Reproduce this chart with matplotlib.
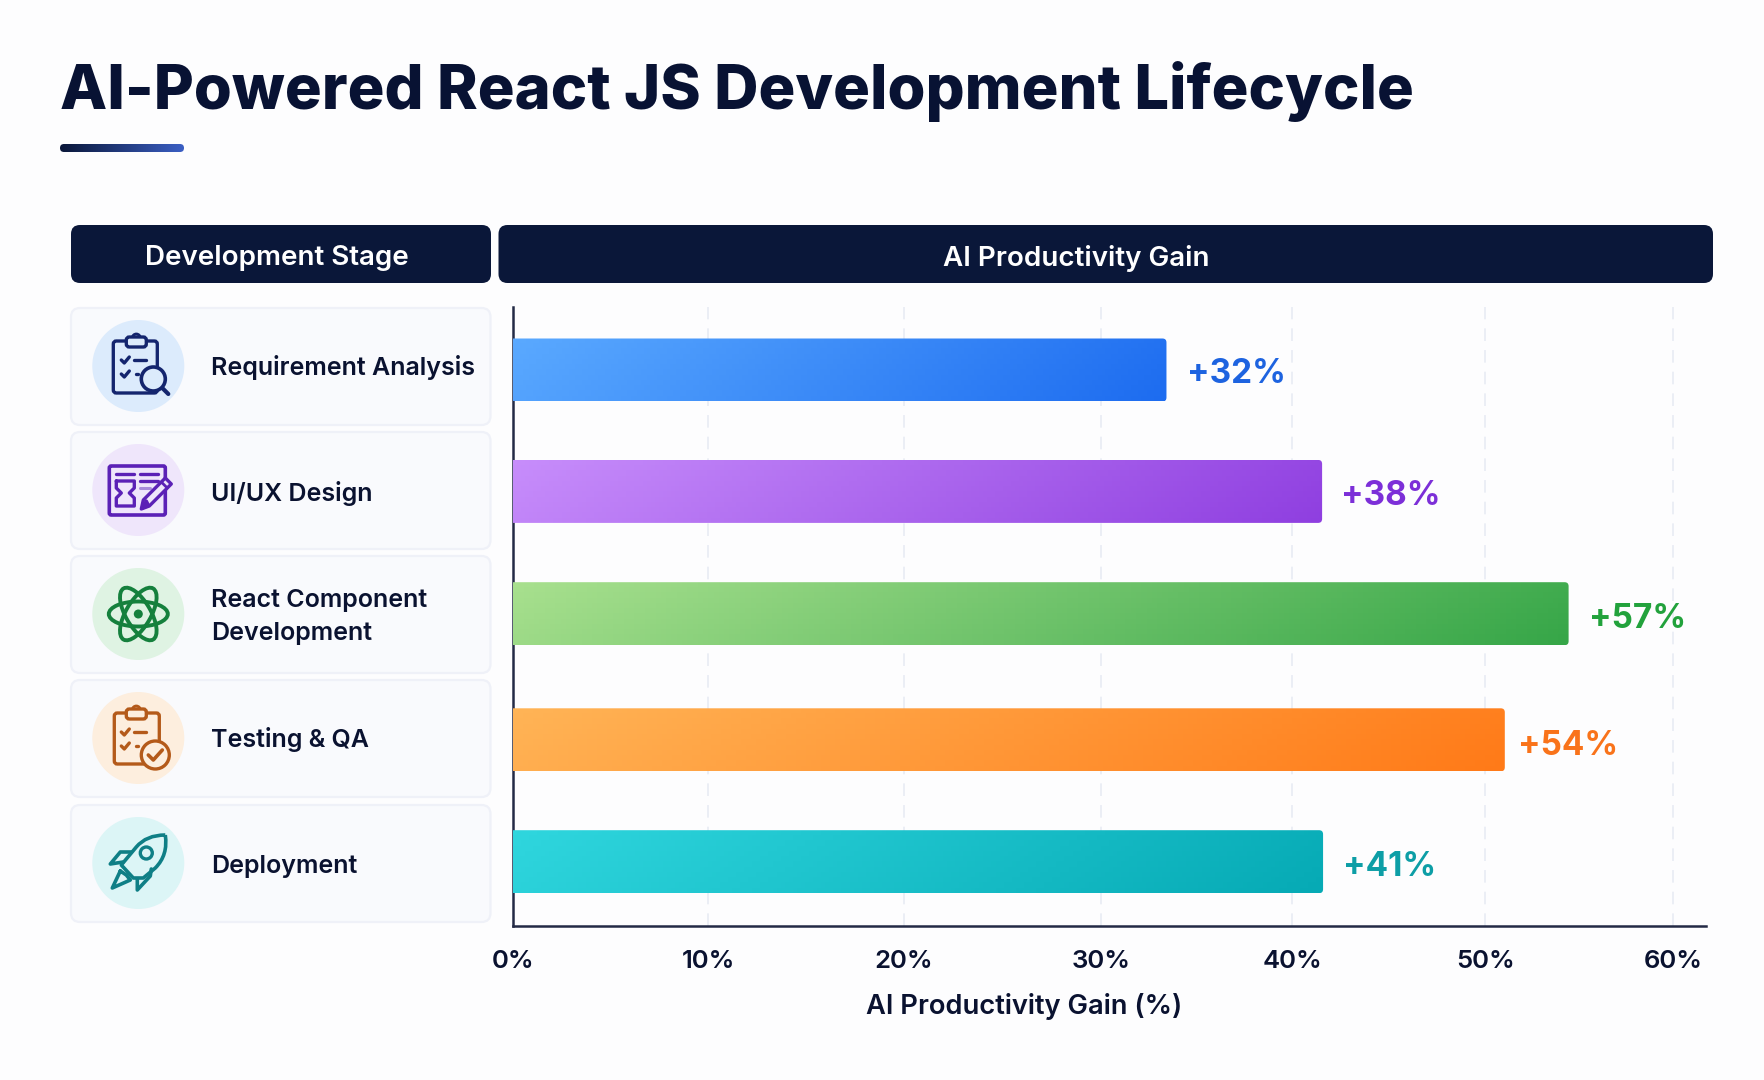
import numpy as np
import matplotlib
matplotlib.use("Agg")
import matplotlib.pyplot as plt
from matplotlib.colors import to_rgb
from matplotlib.patches import Circle, Ellipse, FancyBboxPatch, PathPatch, Polygon
from matplotlib.path import Path
from matplotlib.transforms import Affine2D

plt.rcParams['font.family'] = ['Inter', 'DejaVu Sans']

# -----------------------------
# Data
# -----------------------------
stages = ["Requirement Analysis", "UI/UX Design", "React Component\nDevelopment",
          "Testing & QA", "Deployment"]
bar_ends = [33.8, 41.85, 54.6, 51.3, 41.9]   # where the bars stop on the axis
gain_labels = ["+32%", "+38%", "+57%", "+54%", "+41%"]
tick_values = [0, 10.1, 20.2, 30.4, 40.3, 50.3, 60]
tick_labels = ["0%", "10%", "20%", "30%", "40%", "50%", "60%"]

# -----------------------------
# Colours
# -----------------------------
NAVY = "#0a1739"
INK = "#0a1230"
bar_left = ["#5aa9ff", "#c78dfb", "#a8e08e", "#ffb456", "#2fd6de"]
bar_right = ["#1d6cf0", "#8f3fe0", "#36a648", "#ff7a18", "#06aab5"]
label_cols = ["#1d63e0", "#7c2fd8", "#22a23c", "#f9731a", "#0d9ea6"]
disc_cols = ["#dcebfc", "#efe6fb", "#dff3e3", "#fdeede", "#dcf5f6"]
icon_cols = ["#14256e", "#5b21b6", "#15803d", "#b45a1a", "#0f7f86"]

# -----------------------------
# Layout (pixels)
# -----------------------------
W, H = 1764, 1080
card_tops = [308, 432, 556, 680, 805]
card_bots = [425, 549, 673, 797, 922]
disc_y = [366, 490, 614, 738, 863]
disc_x = 138.3
text_y = [367.5, 494, 617, 739.5, 866]
bar_y = [370, 491.4, 613.7, 739.8, 861.7]
bar_h = 63
label_gap = [21, 19, 20, 13.5, 20]
label_drop = [1.5, 2, 3, 3.5, 2.5]
AX_L, AX_R, AX_T, AX_B = 513, 1705.5, 307, 926
PX_PER_UNIT = (1673 - 513) / 60

fig = plt.figure(figsize=(W/100, H/100), dpi=100, facecolor="#fdfdfe")

bg = fig.add_axes([0, 0, 1, 1])
bg.set_xlim(0, W)
bg.set_ylim(H, 0)
bg.axis("off")


def gradient(c0, c1, tilt=0.1, n=200):
    # left to right blend, leaning a little so it reads diagonal
    xx, yy = np.meshgrid(np.linspace(0, 1, n), np.linspace(0, 1, 12))
    t = np.clip(xx*(1 - tilt) + yy*tilt, 0, 1)[..., None]
    return np.array(to_rgb(c0))*(1 - t) + np.array(to_rgb(c1))*t


def round_box(x0, y0, x1, y1, r, **kw):
    return FancyBboxPatch((x0, y0), x1 - x0, y1 - y0,
                          boxstyle="round,pad=0,rounding_size=%g" % r, **kw)


# -----------------------------
# Title + underline
# -----------------------------
bg.text(60, 91, "AI-Powered React JS Development Lifecycle", fontsize=44.2,
        fontweight=800, color="#081233", ha="left", va="center")
clip = round_box(60, 144, 184, 152, 4, fc="none", ec="none")
bg.add_patch(clip)
im = bg.imshow(gradient(NAVY, "#3b5fc4", 0), extent=[60, 184, 152, 144], aspect="auto")
im.set_clip_path(clip)
bg.set_xlim(0, W)
bg.set_ylim(H, 0)

# -----------------------------
# Header pills
# -----------------------------
bg.add_patch(round_box(71, 225, 491, 283, 9, fc=NAVY, ec="none"))
bg.add_patch(round_box(498.5, 225, 1713, 283, 9, fc=NAVY, ec="none"))
bg.text(277, 258, "Development Stage", color="white", fontsize=20, fontweight="semibold",
        ha="center", va="center")
bg.text(1076, 258, "AI Productivity Gain", color="white", fontsize=20, fontweight="semibold",
        ha="center", va="center")


# -----------------------------
# Icons, drawn around the disc centre
# -----------------------------
def stroke(pts, col, lw=2.4, cx=0, cy=0, z=5):
    pts = np.array(pts, float)
    bg.plot(pts[:, 0] + cx, pts[:, 1] + cy, color=col, lw=lw, solid_capstyle="round",
            solid_joinstyle="round", zorder=z)


def clipboard(cx, cy, col, x0, y0, x1, y1):
    bg.add_patch(round_box(cx + x0, cy + y0, cx + x1, cy + y1, 3, fc="none", ec=col,
                           lw=2.4, zorder=5))
    bg.add_patch(Circle((cx - 2, cy - 28), 4, fc=disc_col, ec=col, lw=2, zorder=5))
    bg.add_patch(round_box(cx - 12, cy - 29, cx + 8, cy - 19, 3, fc=disc_col, ec=col,
                           lw=2.4, zorder=5))
    stroke([(-17, -6), (-14, -3), (-9, -9)], col, 2.4, cx, cy)
    stroke([(-17, 8), (-14, 11), (-9, 5)], col, 2.4, cx, cy)
    stroke([(-4, -6), (8, -6)], col, 2.4, cx, cy)
    stroke([(-2, 8), (0, 8)], col, 2.4, cx, cy)


def icon_requirement(cx, cy, col):
    clipboard(cx, cy, col, -25, -25, 19, 27)
    bg.add_patch(Circle((cx + 15, cy + 13), 12, fc=disc_col, ec=col, lw=2.6, zorder=6))
    stroke([(24, 22), (30, 28)], col, 3, cx, cy)


def icon_design(cx, cy, col):
    bg.add_patch(round_box(cx - 29, cy - 24, cx + 27, cy + 25, 2, fc="none", ec=col,
                           lw=2.6, zorder=5))
    stroke([(-22, -16), (-4, -16)], col, 2.4, cx, cy)
    stroke([(2, -16), (20, -16)], col, 2.4, cx, cy)
    stroke([(2, -9), (20, -9)], col, 2.4, cx, cy)
    stroke([(2, -2), (12, -2)], "#a78bda", 2.2, cx, cy)
    stroke([(-22, -9), (-4, -9), (-4, -2), (-9, 3), (-4, 8), (-4, 16), (-22, 16), (-22, 8),
            (-17, 3), (-22, -2), (-22, -9)], col, 2.4, cx, cy)
    # pencil
    pencil = [(3, 19), (5, 10), (27, -12), (33, -6), (11, 16), (3, 19)]
    bg.add_patch(Polygon(np.array(pencil) + (cx, cy), fc=disc_col, ec=col, lw=2.4, zorder=6,
                         joinstyle="round"))
    stroke([(4, 18), (8, 11), (10, 15), (4, 18)], col, 2.4, cx, cy, 7)
    stroke([(23, -8), (29, -2)], col, 2, cx, cy, 7)


def icon_react(cx, cy, col):
    for ang in (0, 60, 120):
        bg.add_patch(Ellipse((cx, cy), 59, 25, angle=ang, fc="none", ec=col, lw=2.8, zorder=5))
    bg.add_patch(Circle((cx, cy), 4.5, fc=col, ec="none", zorder=6))


def icon_testing(cx, cy, col):
    clipboard(cx, cy, col, -24, -25, 21, 26)
    bg.add_patch(Circle((cx + 17, cy + 17), 14, fc=disc_col, ec=col, lw=2.4, zorder=6))
    stroke([(10, 17), (15, 22), (24, 12)], col, 2.6, cx, cy, 7)


def icon_rocket(cx, cy, col):
    body = Path([(27, -28), (8, -28), (-2, -16), (-17, 2), (-5, 15), (5, 15), (17, 5),
                 (30, -8), (27, -28)],
                [Path.MOVETO, Path.CURVE3, Path.CURVE3, Path.LINETO, Path.LINETO,
                 Path.LINETO, Path.LINETO, Path.CURVE3, Path.CURVE3]
                ).transformed(Affine2D().translate(cx, cy))
    bg.add_patch(PathPatch(body, fc="none", ec=col, lw=2.6, zorder=5, joinstyle="round"))
    bg.add_patch(Circle((cx + 8, cy - 10), 6, fc="none", ec=col, lw=2.4, zorder=6))
    stroke([(-7, -11), (-18, -11), (-28, 1), (-15, -1)], col, 2.6, cx, cy)
    stroke([(-1, 16), (-1, 27), (12, 13), (13, 6)], col, 2.6, cx, cy)
    stroke([(-18, 8), (-26, 25), (-8, 17), (-12, 12), (-18, 8)], col, 2.6, cx, cy)


icons = [icon_requirement, icon_design, icon_react, icon_testing, icon_rocket]

# -----------------------------
# Stage cards
# -----------------------------
for i, stage in enumerate(stages):
    disc_col = disc_cols[i]
    bg.add_patch(round_box(71, card_tops[i], 490.5, card_bots[i], 9, fc="#f9fafd",
                           ec="#eff1f8", lw=1.6))
    bg.add_patch(Circle((disc_x, disc_y[i]), 46, fc=disc_col, ec="none", zorder=4))
    icons[i](disc_x, disc_y[i], icon_cols[i])
    bg.text(211, text_y[i], stage, color=INK, fontsize=18, fontweight="semibold",
            ha="left", va="center", linespacing=1.6)

# -----------------------------
# Bar chart
# -----------------------------
ax = fig.add_axes([AX_L/W, 1 - AX_B/H, (AX_R - AX_L)/W, (AX_B - AX_T)/H])
ax.patch.set_alpha(0)
bars = ax.barh(bar_y, bar_ends, height=bar_h, color=bar_right, zorder=2)
xlim = (0, (AX_R - AX_L)/PX_PER_UNIT)
ylim = (AX_B, AX_T)

for i, bar in enumerate(bars):
    y0, w = bar.get_y(), bar.get_width()
    # rounded right end, square on the axis side
    shape = FancyBboxPatch((-1, y0), w + 1, bar_h, transform=ax.transData,
                           boxstyle="round,pad=0,rounding_size=%g" % (4/PX_PER_UNIT),
                           mutation_aspect=PX_PER_UNIT, fc="none", ec="none")
    ax.add_patch(shape)
    img = ax.imshow(gradient(bar_left[i], bar_right[i]), extent=[0, w, y0 + bar_h, y0],
                    aspect="auto", zorder=3)
    img.set_clip_path(shape)
    bar.set_visible(False)
    ax.annotate(gain_labels[i], (w, bar_y[i]), xytext=(label_gap[i]*0.72, -label_drop[i]*0.72 - 2),
                textcoords="offset points", color=label_cols[i], fontsize=24,
                fontweight="bold", ha="left", va="center", zorder=4)

ax.set_xlim(xlim)
ax.set_ylim(ylim)
ax.set_yticks([])
ax.set_xticks(tick_values)
ax.set_xticklabels(tick_labels, fontsize=18.5, fontweight="semibold", color=INK)
ax.tick_params(axis="x", length=0, pad=17)
ax.xaxis.grid(True, color="#eaedf5", lw=1.3, ls=(0, (7, 5)), zorder=1)
ax.set_axisbelow(True)
for side in ("top", "right"):
    ax.spines[side].set_visible(False)
for side in ("left", "bottom"):
    ax.spines[side].set_color("#232a45")
    ax.spines[side].set_linewidth(1.8)

bg.text(1024, 1007, "AI Productivity Gain (%)", color=INK, fontsize=19.7, fontweight="semibold",
        ha="center", va="center")

fig.savefig("out.png", dpi=100, facecolor=fig.get_facecolor())
